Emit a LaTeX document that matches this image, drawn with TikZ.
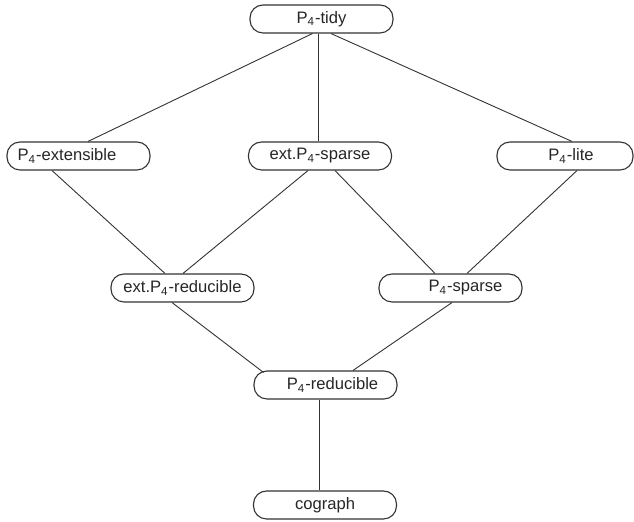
\documentclass[tikz,border=0pt]{standalone}
\usepackage{fontspec}
\setmainfont{Liberation Sans}
\begin{document}
\begin{tikzpicture}[x=0.5pt,y=-0.5pt,
  box/.style={draw=black!80, line width=0.55pt, rounded corners=6.5pt,
    minimum width=71.5pt, minimum height=14pt, inner sep=0pt,
    font=\fontsize{8.3}{10}\selectfont, text=black!85},
  link/.style={draw=black!80, line width=0.45pt}]
\useasboundingbox (0,0) rectangle (634,522);
\node[box] (tidy) at (321.5,19) {P\textsubscript{4}-tidy};
\node[box] (ext)  at (78.5,156) {P\textsubscript{4}-extensible\hspace*{11.5pt}};
\node[box] (esp)  at (320,156) {ext.P\textsubscript{4}-sparse};
\node[box, minimum width=68pt] (lite) at (565,156) {\hspace*{6pt}P\textsubscript{4}-lite};
\node[box] (ered) at (182.5,288) {ext.P\textsubscript{4}-reducible};
\node[box] (psp)  at (450.5,288) {\hspace*{15pt}P\textsubscript{4}-sparse};
\node[box] (pred) at (325.5,385) {\hspace*{7pt}P\textsubscript{4}-reducible};
\node[box] (cog)  at (325,505) {cograph};
\draw[link] ([xshift=-4.5pt]tidy.south) -- ([xshift=4.75pt]ext.north);
\draw[link] ([xshift=-1.5pt]tidy.south) -- ([xshift=-0.75pt]esp.north);
\draw[link] ([xshift=4.75pt]tidy.south) -- ([xshift=3.5pt]lite.north);
\draw[link] ([xshift=-13.25pt]ext.south) -- ([xshift=-8.75pt]ered.north);
\draw[link] ([xshift=-6pt]esp.south) -- ([xshift=0.25pt]ered.north);
\draw[link] ([xshift=7.5pt]esp.south) -- ([xshift=-7.75pt]psp.north);
\draw[link] ([xshift=6pt]lite.south) -- ([xshift=8.25pt]psp.north);
\draw[link] ([xshift=-5.25pt]ered.south) -- ([xshift=-31pt,yshift=-1pt]pred.north);
\draw[link] ([xshift=0.75pt]psp.south) -- ([xshift=13.75pt]pred.north);
\draw[link] ([xshift=-3.25pt]pred.south) -- ([xshift=-3pt]cog.north);
\end{tikzpicture}
\end{document}
